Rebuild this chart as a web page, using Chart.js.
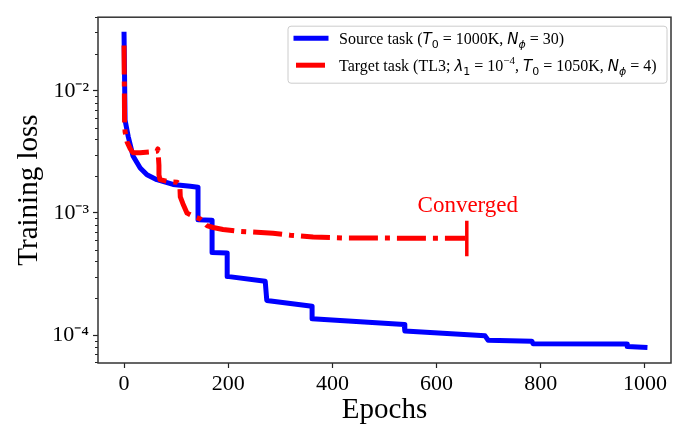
<!DOCTYPE html>
<html>
<head>
<meta charset="utf-8">
<script src="https://cdn.jsdelivr.net/npm/chart.js@4.4.1/dist/chart.umd.min.js"></script>
<style>
  html, body { margin: 0; padding: 0; background: #fff; }
  canvas { display: block; }
</style>
</head>
<body>
<canvas id="lossChart" width="673" height="434"></canvas>
<script>
// Valores (época, pérdida)
const sourceEpochs = [0, 2, 8, 17, 31, 44, 63, 94, 127, 142, 142, 169, 169, 198, 198, 271, 274, 361, 361, 538, 539, 693, 699, 783, 785, 966, 966, 1000];
const sourceLoss = [0.029, 0.00574, 0.00422, 0.00294, 0.00233, 0.00205, 0.00187, 0.00171, 0.00165, 0.00162, 0.000877, 0.00087, 0.000474, 0.00047, 0.000302, 0.000276, 0.000192, 0.000172, 0.000136, 0.000122, 0.000108, 0.0000984, 0.0000906, 0.000089, 0.000085, 0.0000845, 0.0000807, 0.0000793];

const targetEpochs = [0, 1, 2, 6, 12, 17, 31, 50, 63, 65, 67, 67, 69, 83, 102, 107, 108, 113, 121, 132, 146, 159, 171, 190, 223, 255, 286, 319, 363, 428, 655];
const targetLoss = [0.0235, 0.00553, 0.00461, 0.00379, 0.00334, 0.00311, 0.00311, 0.00316, 0.0032, 0.00334, 0.00245, 0.00205, 0.00187, 0.00181, 0.00178, 0.00171, 0.00135, 0.00119, 0.000995, 0.000942, 0.000893, 0.000787, 0.000759, 0.000732, 0.000706, 0.000693, 0.000681, 0.000657, 0.000634, 0.000622, 0.00062];

// Marca de convergencia
const convergedEpochs = [658, 658];
const convergedLoss = [0.000441, 0.00086];

const epochTicks = [0, 200, 400, 600, 800, 1000];
const lossTicks = [1e-4, 1e-3, 1e-2];

const serif = "'Liberation Serif', 'Times New Roman', serif";
const sup = { "-": "\u207B", "0": "\u2070", "1": "\u00B9", "2": "\u00B2", "3": "\u00B3", "4": "\u2074", "5": "\u2075" };

const toPoints = (xs, ys) => xs.map((x, i) => ({ x, y: ys[i] }));

// Texto con subíndices/superíndices
const drawRich = (ctx, x, y, parts) => {
  parts.forEach(([text, font, dy]) => {
    ctx.font = font;
    ctx.fillText(text, x, y + (dy || 0));
    x += ctx.measureText(text).width;
  });
};

const R = "16px " + serif;
const I = "italic 15px 'DejaVu Sans'";
const S = "11px 'DejaVu Sans'";
const SI = "italic 11px 'DejaVu Sans'";
const SUP = "11px " + serif;

const legendRows = [
  { color: "#0000ff", dash: [], parts: [["Source task (", R], ["T", I], ["0", S, 4], [" = 1000K, ", R], ["N", I], ["\u03D5", SI, 4], [" = 30)", R]] },
  { color: "#ff0000", dash: [29, 7, 5, 7], parts: [["Target task (TL3; ", R], ["\u03BB", I], ["1", S, 4], [" = 10", R], ["\u2212" + "4", SUP, -7], [", ", R], ["T", I], ["0", S, 4], [" = 1050K, ", R], ["N", I], ["\u03D5", SI, 4], [" = 4)", R]] }
];

const framePlugin = {
  id: "frame",
  afterDatasetsDraw(chart) {
    const { ctx, chartArea: a, scales } = chart;
    ctx.save();
    // ticks menores del eje log
    ctx.strokeStyle = "#222";
    ctx.lineWidth = 1;
    const y = scales.y;
    for (let k = -5; k <= -2; k++) {
      for (let d = 2; d <= 9; d++) {
        const v = d * Math.pow(10, k);
        if (v < y.min || v > y.max) continue;
        const py = Math.round(y.getPixelForValue(v)) + 0.5;
        ctx.beginPath();
        ctx.moveTo(a.left - 3, py);
        ctx.lineTo(a.left, py);
        ctx.stroke();
      }
    }
    ctx.strokeStyle = "#333";
    ctx.lineWidth = 1.5;
    ctx.strokeRect(a.left, a.top, a.right - a.left, a.bottom - a.top);
    ctx.restore();
  },
  afterDraw(chart) {
    const { ctx, chartArea: a, scales } = chart;
    ctx.save();

    // Texto "Converged"
    const cx = scales.x.getPixelForValue(convergedEpochs[1]);
    const cy = scales.y.getPixelForValue(convergedLoss[1]);
    ctx.fillStyle = "#ff0000";
    ctx.font = "23px " + serif;
    ctx.textAlign = "center";
    ctx.textBaseline = "alphabetic";
    ctx.fillText("Converged", cx + 1, cy - 9);

    // Leyenda
    const bx = 288, by = a.top + 9, bw = a.right - 4 - bx, bh = 57;
    ctx.beginPath();
    ctx.roundRect(bx, by, bw, bh, 3);
    ctx.fillStyle = "rgba(255,255,255,0.8)";
    ctx.fill();
    ctx.strokeStyle = "#cccccc";
    ctx.lineWidth = 1;
    ctx.stroke();

    ctx.textAlign = "left";
    legendRows.forEach((row, i) => {
      const ly = by + 12 + i * 27;
      ctx.beginPath();
      ctx.setLineDash(row.dash);
      ctx.lineCap = row.dash.length ? "butt" : "square";
      ctx.strokeStyle = row.color;
      ctx.lineWidth = 5;
      ctx.moveTo(296, ly);
      ctx.lineTo(326, ly);
      ctx.stroke();
      ctx.setLineDash([]);
      ctx.fillStyle = "#000";
      drawRich(ctx, 339, ly + 6, row.parts);
    });
    ctx.restore();
  }
};

new Chart(document.getElementById("lossChart"), {
  type: "line",
  data: {
    datasets: [
      {
        label: "Converged",
        data: toPoints(convergedEpochs, convergedLoss),
        borderColor: "#ff0000",
        borderWidth: 3.5,
        borderCapStyle: "butt",
        order: 0
      },
      {
        label: "Target task",
        data: toPoints(targetEpochs, targetLoss),
        borderColor: "#ff0000",
        borderWidth: 5,
        borderDash: [29, 7, 5, 7],
        borderCapStyle: "butt",
        borderJoinStyle: "round",
        order: 1
      },
      {
        label: "Source task",
        data: toPoints(sourceEpochs, sourceLoss),
        borderColor: "#0000ff",
        borderWidth: 5,
        borderCapStyle: "square",
        borderJoinStyle: "round",
        order: 2
      }
    ]
  },
  options: {
    responsive: false,
    animation: false,
    layout: { padding: { top: 3, right: 2, left: 0, bottom: 0 } },
    elements: { point: { radius: 0 }, line: { tension: 0 } },
    plugins: {
      legend: { display: false },
      tooltip: { enabled: false }
    },
    scales: {
      x: {
        type: "linear",
        min: -50,
        max: 1050,
        afterFit: s => { s.height = 71; },
        afterBuildTicks: s => { s.ticks = epochTicks.map(v => ({ value: v })); },
        grid: { drawOnChartArea: false, tickLength: 5, tickWidth: 1.2, tickColor: "#222" },
        border: { display: false },
        ticks: {
          color: "#000",
          font: { family: serif, size: 22 },
          padding: 3,
          maxRotation: 0,
          autoSkip: false,
          callback: v => String(v)
        },
        title: {
          display: true,
          text: "Epochs",
          color: "#000",
          font: { family: serif, size: 29 },
          padding: { top: 0, bottom: 6 }
        }
      },
      y: {
        type: "logarithmic",
        min: 5.9e-5,
        max: 0.040,
        afterFit: s => { s.width = 98; },
        afterBuildTicks: s => { s.ticks = lossTicks.map(v => ({ value: v })); },
        grid: { drawOnChartArea: false, tickLength: 5, tickWidth: 1.2, tickColor: "#222" },
        border: { display: false },
        ticks: {
          color: "#000",
          font: { family: serif, size: 22 },
          padding: 4,
          autoSkip: false,
          callback: v => {
            const e = String(Math.round(Math.log10(v)));
            return "10" + e.split("").map(c => sup[c]).join("");
          }
        },
        title: {
          display: true,
          text: "Training loss",
          color: "#000",
          font: { family: serif, size: 29 },
          padding: { top: 12, bottom: 0 }
        }
      }
    }
  },
  plugins: [framePlugin]
});
</script>
</body>
</html>
